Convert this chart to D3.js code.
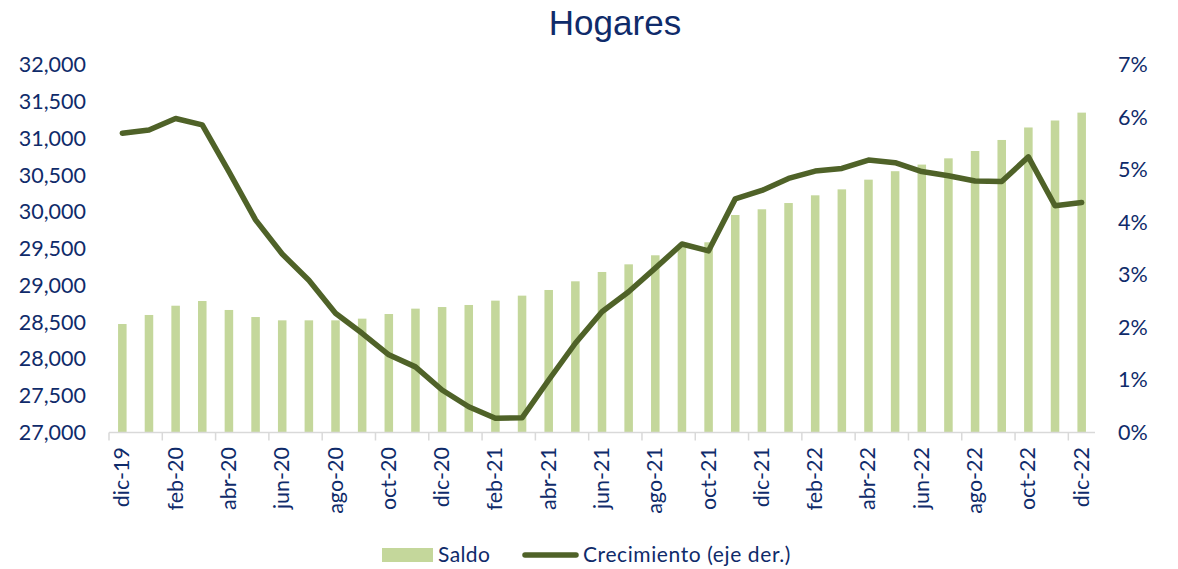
<!DOCTYPE html>
<html><head><meta charset="utf-8">
<script src="https://cdnjs.cloudflare.com/ajax/libs/d3/7.8.5/d3.min.js"></script>
<style>
body{margin:0;background:#fff;}
svg{display:block;}
</style></head>
<body><svg id="chart" width="1178" height="569"></svg>
<script>
const months = ["dic-19","ene-20","feb-20","mar-20","abr-20","may-20","jun-20","jul-20","ago-20","sep-20","oct-20","nov-20","dic-20","ene-21","feb-21","mar-21","abr-21","may-21","jun-21","jul-21","ago-21","sep-21","oct-21","nov-21","dic-21","ene-22","feb-22","mar-22","abr-22","may-22","jun-22","jul-22","ago-22","sep-22","oct-22","nov-22","dic-22"];
const saldo = [28476,28599,28725,28789,28667,28571,28526,28526,28526,28549,28612,28685,28707,28735,28794,28862,28939,29057,29184,29288,29411,29528,29588,29959,30037,30122,30227,30308,30440,30555,30645,30730,30830,30980,31150,31245,31352];
const crecimiento = [5.70,5.76,5.98,5.86,4.97,4.05,3.40,2.90,2.27,1.89,1.48,1.25,0.81,0.49,0.27,0.28,1.00,1.70,2.30,2.68,3.13,3.59,3.46,4.45,4.61,4.84,4.98,5.03,5.19,5.14,4.97,4.89,4.79,4.78,5.25,4.32,4.38];
const leftTicks = [27000,27500,28000,28500,29000,29500,30000,30500,31000,31500,32000];
const rightTicks = [0,1,2,3,4,5,6,7];
const labelMonths = months.filter((m,i)=>i%2===0);

const textColor = "#0f2b6a";
const barColor = "#c4d79b";
const lineColor = "#4f6228";
const axisColor = "#d9d9d9";
const font = "Lato, 'Open Sans', sans-serif";

const svg = d3.select("#chart");
const x0 = 109, x1 = 1095, yTop = 65, yBot = 432.5;

const x = d3.scaleBand().domain(months).range([x0, x1]).paddingInner(0.68).paddingOuter(0.34);
const yL = d3.scaleLinear().domain([27000, 32000]).range([yBot, yTop]);
const yR = d3.scaleLinear().domain([0, 7]).range([yBot, yTop]);

// title
svg.append("text").attr("x", 615).attr("y", 35).attr("text-anchor","middle")
  .attr("font-family","'Liberation Sans', Arial, sans-serif").attr("font-size",35)
  .attr("fill", textColor).text("Hogares");

// bars
svg.append("g").selectAll("rect").data(months).join("rect")
  .attr("x", d => x(d)).attr("width", x.bandwidth())
  .attr("y", (d,i) => yL(saldo[i])).attr("height", (d,i) => yBot - yL(saldo[i]))
  .attr("fill", barColor);

// left axis labels
const gl = svg.append("g").attr("transform", `translate(${x0},0)`)
  .call(d3.axisLeft(yL).tickValues(leftTicks).tickSize(0).tickPadding(23).tickFormat(d3.format(",")));
gl.select(".domain").remove();
gl.selectAll("text").attr("font-family", font).attr("font-size", 21.5).attr("fill", textColor);

// right axis labels
const gr = svg.append("g").attr("transform", `translate(${x1},0)`)
  .call(d3.axisRight(yR).tickValues(rightTicks).tickSize(0).tickPadding(23).tickFormat(d => d + "%"));
gr.select(".domain").remove();
gr.selectAll("text").attr("font-family", font).attr("font-size", 21.5).attr("fill", textColor);

// x axis line and ticks
svg.append("line").attr("x1", x0).attr("x2", x1).attr("y1", yBot).attr("y2", yBot)
  .attr("stroke", axisColor).attr("stroke-width", 1.5);
const step = x.step();
const tickPos = d3.range(0, months.length + 1, 2).map(i => x0 + i * step);
svg.append("g").selectAll("line").data(tickPos).join("line")
  .attr("x1", d => d).attr("x2", d => d).attr("y1", yBot).attr("y2", yBot + 8)
  .attr("stroke", axisColor).attr("stroke-width", 1.5);

// x labels
svg.append("g").selectAll("text").data(labelMonths).join("text")
  .attr("transform", d => `translate(${x(d) + x.bandwidth()/2 + 7},447) rotate(-90)`)
  .attr("text-anchor","end")
  .attr("font-family", font).attr("font-size", 21.5).attr("fill", textColor)
  .text(d => d);

// line
const line = d3.line().x((d,i) => x(months[i]) + x.bandwidth()/2).y(d => yR(d));
svg.append("path").datum(crecimiento).attr("d", line)
  .attr("fill","none").attr("stroke", lineColor).attr("stroke-width", 5.5)
  .attr("stroke-linejoin","round").attr("stroke-linecap","round");

// legend
const lg = svg.append("g");
lg.append("rect").attr("x",382).attr("y",548).attr("width",51).attr("height",14).attr("fill",barColor);
lg.append("text").attr("x",438).attr("y",562).attr("font-family",font).attr("font-size",21).attr("letter-spacing",0.4).attr("fill",textColor).text("Saldo");
lg.append("line").attr("x1",525).attr("x2",576).attr("y1",555).attr("y2",555)
  .attr("stroke",lineColor).attr("stroke-width",5.5).attr("stroke-linecap","round");
lg.append("text").attr("x",583).attr("y",562).attr("font-family",font).attr("font-size",21).attr("letter-spacing",0.6).attr("fill",textColor).text("Crecimiento (eje der.)");
</script>
</body></html>
